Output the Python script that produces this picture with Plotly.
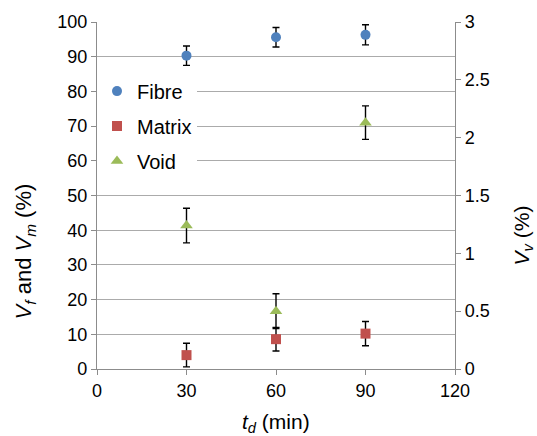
import plotly.graph_objects as go

# Drying time (min)
t_d = [30, 60, 90]

# Fibre and matrix volume fractions (%), left axis
fibre = [90.3, 95.6, 96.3]
fibre_err = [2.8, 2.8, 2.9]
matrix = [4.0, 8.6, 10.2]
matrix_err = [3.4, 3.4, 3.5]

# Void volume fraction (%), right axis
void = [1.24, 0.50, 2.13]
void_err = [0.15, 0.15, 0.145]

x_ticks = [0, 30, 60, 90, 120]
left_ticks = list(range(0, 101, 10))
right_ticks = [0, 0.5, 1, 1.5, 2, 2.5, 3]
right_ticktext = ["0", "0.5", "1", "1.5", "2", "2.5", "3"]

FONT = "Arial, Liberation Sans, sans-serif"
GRID = "#ababab"
AXIS = "#8c8c8c"

err_style = dict(type="data", color="black", thickness=1.4, width=3.5)

fig = go.Figure()
fig.add_trace(go.Scatter(
    x=t_d, y=fibre, mode="markers", name="Fibre", legendgroup="f",
    marker=dict(symbol="circle", size=10, color="#4f81bd"),
    error_y=dict(array=fibre_err, **err_style),
))
fig.add_trace(go.Scatter(
    x=t_d, y=matrix, mode="markers", name="Matrix", legendgroup="m",
    marker=dict(symbol="square", size=10, color="#c0504d"),
    error_y=dict(array=matrix_err, **err_style),
))
fig.add_trace(go.Scatter(
    x=t_d, y=void, mode="markers", name="Void", legendgroup="v", yaxis="y2",
    marker=dict(symbol="triangle-up", size=11, color="#9bbb59"),
    error_y=dict(array=void_err, **err_style),
))

fig.update_layout(
    width=537, height=436,
    margin=dict(l=97, r=82, t=17, b=67),
    paper_bgcolor="white", plot_bgcolor="white",
    font=dict(family=FONT, size=18, color="black"),
    showlegend=True,
    legend=dict(
        x=0.0, y=0.857, xanchor="left", yanchor="top",
        bgcolor="white", borderwidth=0,
        font=dict(size=20, family=FONT),
        tracegroupgap=6, itemwidth=30,
    ),
    xaxis=dict(
        range=[0, 120], tickvals=x_ticks, ticks="outside", ticklen=5,
        tickcolor=AXIS, showgrid=False, zeroline=False,
        showline=True, linecolor=AXIS, linewidth=1.2,
        tickfont=dict(size=18),
    ),
    yaxis=dict(
        range=[0, 100], tickvals=left_ticks, ticks="outside", ticklen=5,
        tickcolor=AXIS, showgrid=True, gridcolor=GRID, gridwidth=1.2,
        zeroline=False, showline=True, linecolor=AXIS, linewidth=1.2,
        tickfont=dict(size=18),
    ),
    yaxis2=dict(
        range=[0, 3], tickvals=right_ticks, ticktext=right_ticktext,
        overlaying="y", side="right", ticks="outside", ticklen=5,
        tickcolor=AXIS, showgrid=False, zeroline=False,
        showline=True, linecolor=AXIS, linewidth=1.2,
        tickfont=dict(size=18),
    ),
    annotations=[
        dict(text="<i>V</i><sub><i>f</i></sub> and <i>V</i><sub><i>m</i></sub> (%)",
             xref="paper", yref="paper", x=-0.2, y=0.34, textangle=-90,
             showarrow=False, font=dict(size=22), xanchor="center", yanchor="middle"),
        dict(text="<i>V</i><sub><i>v</i></sub> (%)",
             xref="paper", yref="paper", x=1.19, y=0.385, textangle=-90,
             showarrow=False, font=dict(size=21), xanchor="center", yanchor="middle"),
        dict(text="<i>t</i><sub><i>d</i></sub> (min)",
             xref="paper", yref="paper", x=0.5, y=-0.155,
             showarrow=False, font=dict(size=21), xanchor="center", yanchor="middle"),
    ],
)

fig.write_html("out.html")
